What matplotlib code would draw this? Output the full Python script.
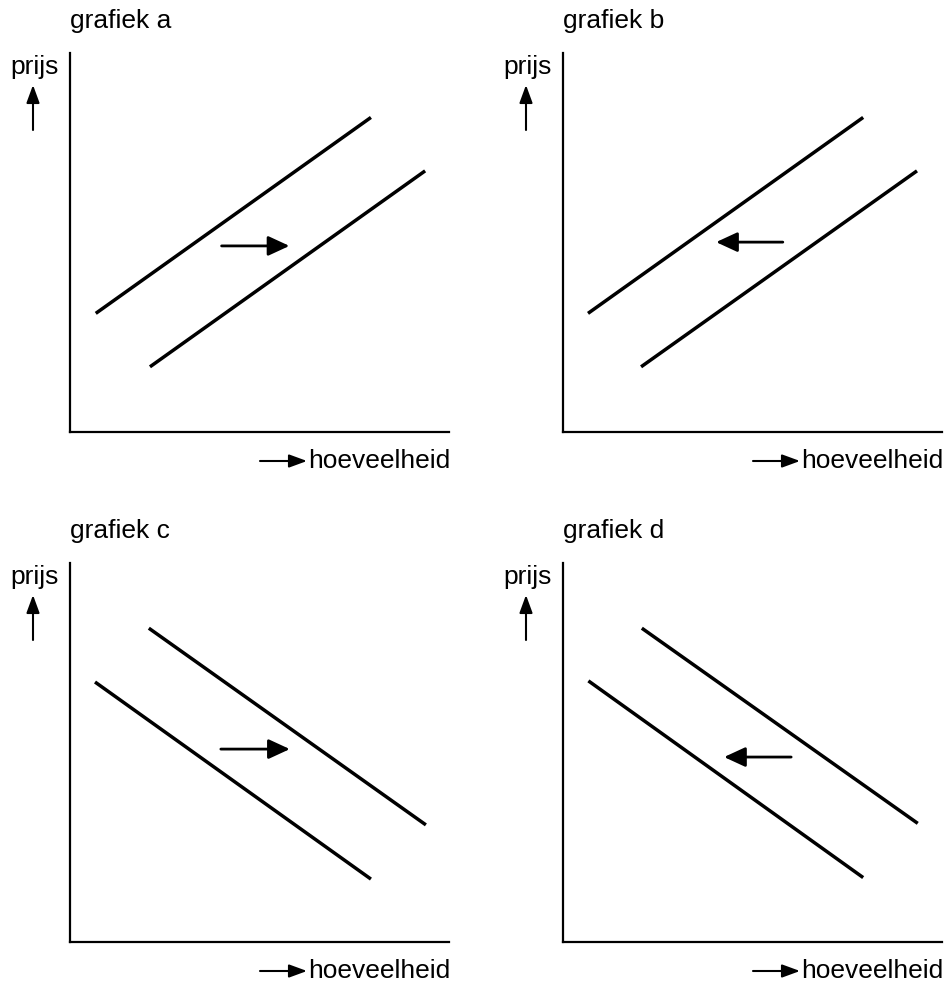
import matplotlib.pyplot as plt

plt.rcParams['font.family'] = ['Liberation Sans', 'DejaVu Sans']

# panel names and line data (arbitrary units 0-100 on both axes)
titles = ['grafiek a', 'grafiek b', 'grafiek c', 'grafiek d']
line1_x = [[6.8, 79.4], [6.6, 79.2], [6.6, 79.4], [6.7, 79.2]]
line1_y = [[31.3, 83.0], [31.3, 83.0], [68.6, 16.6], [68.9, 17.0]]
line2_x = [[21.1, 93.7], [20.6, 93.4], [20.8, 93.9], [20.8, 93.6]]
line2_y = [[17.2, 68.9], [17.2, 68.9], [82.8, 30.9], [82.8, 31.3]]
# shift arrows: start x, end x, y
shift_from = [40.0, 58.0, 39.8, 60.2]
shift_to = [57.9, 40.4, 58.0, 42.5]
shift_y = [49.1, 50.1, 50.9, 48.8]

W, H = 946, 983
fig = plt.figure(figsize=(W / 100, H / 100), dpi=100)

# axes origins in pixels (left, bottom measured from top)
origins = [(70, 432), (563, 432), (70, 942), (563, 942)]
size = 379

for i, (L, B) in enumerate(origins):
    ax = fig.add_axes([L / W, (H - B) / H, size / W, size / H])
    ax.set_xlim(0, 100)
    ax.set_ylim(0, 100)
    for s in ['top', 'right']:
        ax.spines[s].set_visible(False)
    for s in ['left', 'bottom']:
        ax.spines[s].set_linewidth(1.6)
    ax.set_xticks([])
    ax.set_yticks([])
    ax.patch.set_alpha(0)

    ax.plot(line1_x[i], line1_y[i], color='black', lw=2.5, solid_capstyle='butt')
    ax.plot(line2_x[i], line2_y[i], color='black', lw=2.5, solid_capstyle='butt')

    ax.annotate('', xy=(shift_to[i], shift_y[i]), xytext=(shift_from[i], shift_y[i]),
                arrowprops=dict(arrowstyle='-|>,head_length=0.65,head_width=0.3',
                                mutation_scale=20, lw=2, color='black',
                                shrinkA=0, shrinkB=0))

    # labels, positioned in axes pixels
    ax.annotate(titles[i], xy=(0, 404), xycoords='axes pixels',
                ha='left', va='baseline', fontsize=19, annotation_clip=False)
    ax.annotate('prijs', xy=(-60, 358), xycoords='axes pixels',
                ha='left', va='baseline', fontsize=19, annotation_clip=False)
    ax.annotate('', xy=(-37, 347), xytext=(-37, 302), xycoords='axes pixels',
                textcoords='axes pixels', annotation_clip=False,
                arrowprops=dict(arrowstyle='-|>,head_length=0.6,head_width=0.22',
                                mutation_scale=18, lw=1.5, color='black',
                                shrinkA=0, shrinkB=0))
    ax.annotate('', xy=(237, -29), xytext=(190, -29), xycoords='axes pixels',
                textcoords='axes pixels', annotation_clip=False,
                arrowprops=dict(arrowstyle='-|>,head_length=0.6,head_width=0.22',
                                mutation_scale=18, lw=1.5, color='black',
                                shrinkA=0, shrinkB=0))
    ax.annotate('hoeveelheid', xy=(238, -36), xycoords='axes pixels',
                ha='left', va='baseline', fontsize=19, annotation_clip=False)

fig.savefig('out.png', dpi=100)
